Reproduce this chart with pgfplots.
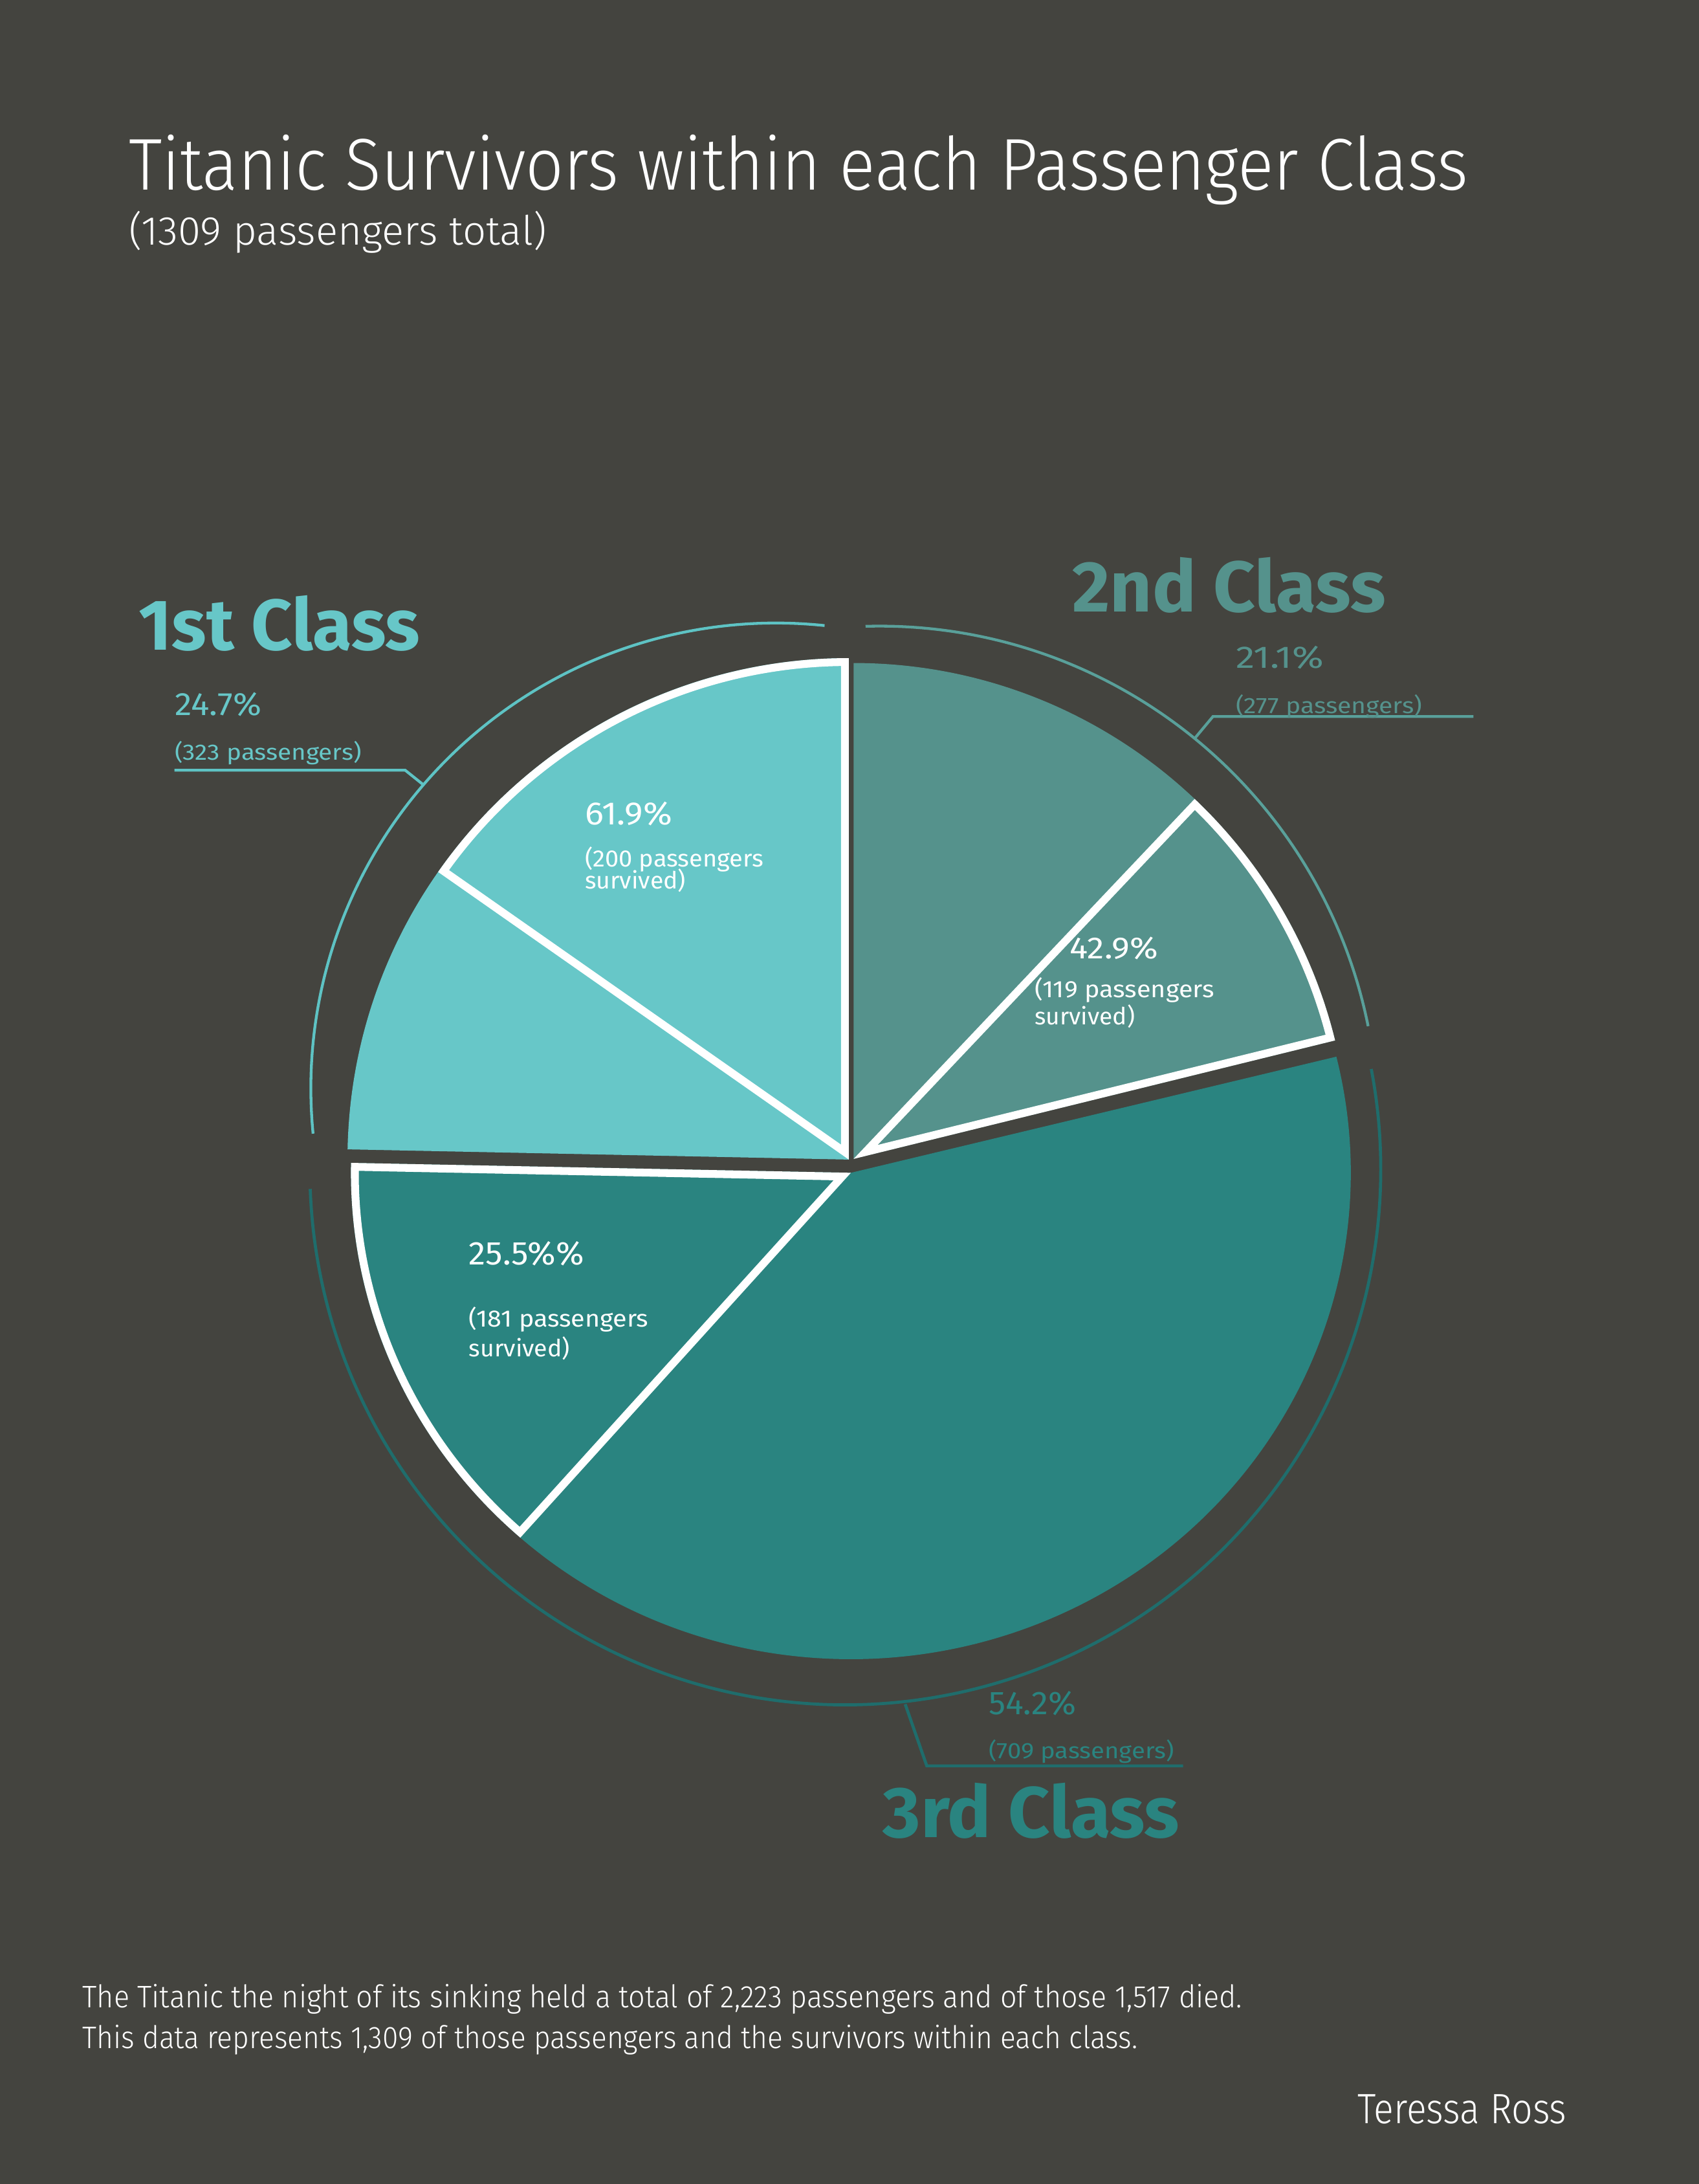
\documentclass[border=0pt]{standalone}
\usepackage{pgfplots}
\pgfplotsset{compat=1.18}
\usepackage{pgfplotstable}
\usepackage{graphicx}
\usepackage{fontspec}
\setmainfont{Fira Sans}
\newfontfamily\lightfont{Fira Sans Light}

\definecolor{bg}{HTML}{44443F}
\definecolor{cA}{HTML}{67C7C8}
\definecolor{cB}{HTML}{55928C}
\definecolor{cC}{HTML}{2A8480}
\definecolor{arcA}{HTML}{5EC3C4}
\definecolor{arcB}{HTML}{59A09A}
\definecolor{arcC}{HTML}{1F6D6C}

% data: passengers and survivors per class
\pgfplotstableread{
class total survived
1 323 200
2 277 119
3 709 181
}\titanic

\newsavebox\fitbox
\newlength\fitlen
% scale text horizontally to a width given in units (1 unit = 0.5pt)
\newcommand\fitw[2]{\sbox\fitbox{#2}\setlength\fitlen{\wd\fitbox}%
  \pgfmathsetmacro\fitr{(#1)*0.5/\fitlen}\scalebox{\fitr}[1]{\usebox\fitbox}}
% x, y (baseline), width, font, colour, text
\newcommand\txt[6]{\node[anchor=base west, inner sep=0pt, outer sep=0pt, text=#5, font=#4] at (axis cs:#1,#2) {\fitw{#3}{#6}};}
\newcommand\FL[1]{\lightfont\fontsize{#1}{#1}\selectfont}
\newcommand\FR[1]{\fontsize{#1}{#1}\selectfont}
\newcommand\FB[1]{\bfseries\fontsize{#1}{#1}\selectfont}

\begin{document}
\begin{tikzpicture}
\pgfplotstablegetelem{0}{total}\of\titanic \edef\nA{\pgfplotsretval}
\pgfplotstablegetelem{1}{total}\of\titanic \edef\nB{\pgfplotsretval}
\pgfplotstablegetelem{2}{total}\of\titanic \edef\nC{\pgfplotsretval}
\pgfplotstablegetelem{0}{survived}\of\titanic \edef\sA{\pgfplotsretval}
\pgfplotstablegetelem{1}{survived}\of\titanic \edef\sB{\pgfplotsretval}
\pgfplotstablegetelem{2}{survived}\of\titanic \edef\sC{\pgfplotsretval}
\pgfmathsetmacro\tot{\nA+\nB+\nC}
\pgfmathsetmacro\spanA{360*(\nA/\tot)}
\pgfmathsetmacro\spanB{360*(\nB/\tot)}
\pgfmathsetmacro\spanC{360*(\nC/\tot)}
% 1st class: counter-clockwise from the top
\pgfmathsetmacro\aAs{90}
\pgfmathsetmacro\aAe{90+\spanA}
\pgfmathsetmacro\aAx{90+\spanA*(\sA/\nA)}
% 2nd class: clockwise from the top
\pgfmathsetmacro\aBs{90-\spanB}
\pgfmathsetmacro\aBx{\aBs+\spanB*(\sB/\nB)}
% 3rd class: the rest
\pgfmathsetmacro\aCs{\aAe}
\pgfmathsetmacro\aCe{\aCs+\spanC}
\pgfmathsetmacro\aCx{\aCs+\spanC*(\sC/\nC)}
\begin{axis}[
  width=610pt, height=784pt, scale only axis,
  xmin=0, xmax=1220, ymin=0, ymax=1568, y dir=reverse,
  hide axis, clip=false]
\fill[bg] (axis cs:0,0) rectangle (axis cs:1220,1568);
% class wedges (slightly exploded)
\fill[cA] (axis cs:609.5,832.5) -- ++(\aAs:180pt) arc[start angle=\aAs, end angle=\aAe, radius=180pt] -- cycle;
\fill[cB] (axis cs:613,832) -- ++(\aBs:178pt) arc[start angle=\aBs, end angle=90, radius=178pt] -- cycle;
\fill[cC] (axis cs:611,842) -- ++(\aCs:179.5pt and 174.6pt) arc[start angle=\aCs, end angle=\aCe, x radius=179.5pt, y radius=174.6pt] -- cycle;
% survivors wedges, white inner outline
\begin{scope}
\clip (axis cs:609.5,832.5) -- ++(\aAs:180pt) arc[start angle=\aAs, end angle=\aAx, radius=180pt] -- cycle;
\draw[white, line width=5.6pt, line join=miter] (axis cs:609.5,832.5) -- ++(\aAs:180pt) arc[start angle=\aAs, end angle=\aAx, radius=180pt] -- cycle;
\end{scope}
\begin{scope}
\clip (axis cs:613,832) -- ++(\aBs:178pt) arc[start angle=\aBs, end angle=\aBx, radius=178pt] -- cycle;
\draw[white, line width=5.6pt, line join=miter] (axis cs:613,832) -- ++(\aBs:178pt) arc[start angle=\aBs, end angle=\aBx, radius=178pt] -- cycle;
\end{scope}
\begin{scope}
\clip (axis cs:611,842) -- ++(\aCs:179.5pt and 174.6pt) arc[start angle=\aCs, end angle=\aCx, x radius=179.5pt, y radius=174.6pt] -- cycle;
\draw[white, line width=5.6pt, line join=miter] (axis cs:611,842) -- ++(\aCs:179.5pt and 174.6pt) arc[start angle=\aCs, end angle=\aCx, x radius=179.5pt, y radius=174.6pt] -- cycle;
\end{scope}
% outer arcs
\draw[arcA, line width=1pt] (axis cs:557.2,781.3) ++(84:167pt) arc[start angle=84, end angle=185.6, radius=167pt];
\draw[arcB, line width=1pt] (axis cs:631.5,807.5) ++(91.6:179pt) arc[start angle=91.6, end angle=11.4, radius=179pt];
\draw[arcC, line width=1.1pt] (axis cs:607,839.5) ++(182.1:192.25pt) arc[start angle=182.1, end angle=370.8, radius=192.25pt];
% leader lines
\draw[arcA, line width=1pt] (axis cs:304.1,563.5) -- (axis cs:291,553) -- (axis cs:125.3,553);
\draw[arcB, line width=1pt] (axis cs:858,530) -- (axis cs:871,514.4) -- (axis cs:1058,514.4);
\draw[arcC, line width=1.1pt] (axis cs:650,1223.5) -- (axis cs:665.5,1267.8) -- (axis cs:849.6,1267.8);
% titles
\txt{92.5}{136.3}{962}{\FL{26.3}}{white}{Titanic Survivors within each Passenger Class}
\txt{92.5}{175.8}{300}{\FL{14.5}}{white}{(1309 passengers total)}
% class labels
\txt{99.6}{466.6}{202}{\FB{25.8}}{cA}{1st Class}
\txt{125.6}{513.7}{62.3}{\FR{11.6}}{cA}{24.7\%}
\txt{125.6}{545.8}{134}{\FR{8}}{cA}{(323 passengers)}
\txt{770}{439.2}{225}{\FB{25.8}}{cB}{2nd Class}
\txt{887.4}{479.5}{63}{\FR{11.2}}{cB}{21.1\%}
\txt{887.4}{512.2}{134}{\FR{8}}{cB}{(277 passengers)}
\txt{634}{1319}{213}{\FB{25.8}}{cC}{3rd Class}
\txt{710}{1231}{62.7}{\FR{11.8}}{cC}{54.2\%}
\txt{710}{1262.6}{133}{\FR{8}}{cC}{(709 passengers)}
% inner labels
\txt{420}{592.3}{62.6}{\FR{11.6}}{white}{61.9\%}
\txt{420}{622.2}{128.4}{\FR{8.5}}{white}{(200 passengers}
\txt{420}{638.2}{72.5}{\FR{8.5}}{white}{survived)}
\txt{768.3}{688.4}{63.2}{\FR{11}}{white}{42.9\%}
\txt{743}{716}{129}{\FR{8.5}}{white}{(119 passengers}
\txt{743}{735.6}{72}{\FR{8.5}}{white}{survived)}
\txt{336.7}{908}{82.7}{\FR{11.8}}{white}{25.5\%\%}
\txt{336.7}{952.5}{129}{\FR{8.5}}{white}{(181 passengers}
\txt{336.7}{973.9}{72.6}{\FR{8.5}}{white}{survived)}
% footer
\txt{59.3}{1441.2}{832.7}{\FL{11.2}}{white}{The Titanic the night of its sinking held a total of 2,223 passengers and of those 1,517 died.}
\txt{59.3}{1470.7}{757.7}{\FL{11.2}}{white}{This data represents 1,309 of those passengers and the survivors within each class.}
\txt{975}{1524.5}{150}{\FL{15.2}}{white}{Teressa Ross}
\end{axis}
\end{tikzpicture}
\end{document}
